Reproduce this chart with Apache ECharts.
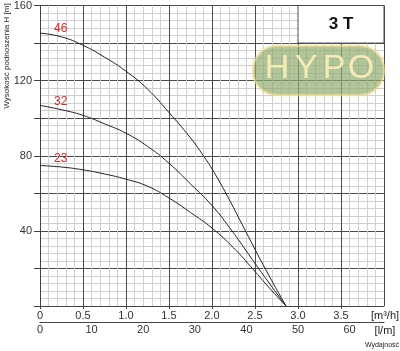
<!DOCTYPE html>
<html>
<head>
<meta charset="utf-8">
<script src="https://cdn.jsdelivr.net/npm/echarts@6/dist/echarts.min.js"></script>
<style>
html,body{margin:0;padding:0;background:#fff;}
#c{width:400px;height:351px;}
</style>
</head>
<body>
<div id="c"></div>
<script>
// Flow Q [m3/h] and head H [m] for each pump variant
const curveNames = ['46', '32', '23'];
const q46 = [0, 0.25, 0.5, 0.75, 1.0, 1.25, 1.5, 1.75, 1.9, 2.0, 2.15, 2.35, 2.6, 2.86];
const h46 = [145.3, 143.3, 138.8, 132.5, 125, 115.5, 103, 89.5, 80, 73, 61, 43.5, 21.5, 0];
const q32 = [0, 0.25, 0.5, 0.75, 1.0, 1.25, 1.5, 1.75, 2.0, 2.2, 2.35, 2.55, 2.7, 2.86];
const h32 = [106.8, 104.5, 101.5, 97, 92, 85, 76, 65, 53.5, 42, 32.5, 19.5, 10, 0];
const q23 = [0, 0.25, 0.5, 0.75, 1.0, 1.25, 1.5, 1.75, 2.0, 2.25, 2.45, 2.65, 2.86];
const h23 = [74.8, 74, 72.5, 70.3, 67.5, 63.8, 57.5, 49.8, 41.5, 31, 21, 10.5, 0];
// label anchor flow for curve labels
const labelQ = 0.24;

const FONT = '"Liberation Sans", Arial, sans-serif';
const chart = echarts.init(document.getElementById('c'), null, {renderer: 'canvas'});

function zip(q, h) { return q.map((v, i) => [v, h[i]]); }
const curves = [zip(q46, h46), zip(q32, h32), zip(q23, h23)];

const option = {
  animation: false,
  backgroundColor: '#fff',
  grid: {left: 40, right: 16, top: 5, bottom: 45, containLabel: false},
  xAxis: [{
    type: 'value', min: 0, max: 4, interval: 0.5, position: 'bottom',
    axisLine: {show: true, onZero: false, lineStyle: {color: '#444', width: 1}},
    axisTick: {show: true, length: 3, lineStyle: {color: '#444'}},
    axisLabel: {margin: 4, fontSize: 11, color: '#333', fontFamily: FONT, showMaxLabel: false,
      formatter: v => v === 0 ? '0' : v.toFixed(1)},
    splitLine: {show: true, lineStyle: {color: '#4a4a4a', width: 1}},
    minorTick: {show: false, splitNumber: 5},
    minorSplitLine: {show: true, lineStyle: {color: '#d0d0d0', width: 1}}
  }, {
    type: 'value', min: 0, max: 200 / 3, interval: 10, position: 'bottom', offset: 16,
    axisLine: {show: true, onZero: false, lineStyle: {color: '#444', width: 1}},
    axisTick: {show: false},
    axisLabel: {margin: 2, fontSize: 11, color: '#333', fontFamily: FONT, showMaxLabel: false},
    splitLine: {show: false}
  }],
  yAxis: {
    type: 'value', min: 0, max: 160, interval: 20,
    axisLine: {show: true, lineStyle: {color: '#444', width: 1}},
    axisTick: {show: true, length: 6, lineStyle: {color: '#444'}},
    axisLabel: {margin: 8, fontSize: 11, color: '#333', fontFamily: FONT,
      formatter: v => (v % 40 === 0 && v > 0) ? String(v) : ''},
    splitLine: {show: true, lineStyle: {color: '#4a4a4a', width: 1}},
    minorTick: {show: false, splitNumber: 5},
    minorSplitLine: {show: true, lineStyle: {color: '#d0d0d0', width: 1}}
  },
  series: curves.map((d, i) => ({
    type: 'line', name: curveNames[i], xAxisIndex: 0, data: d,
    showSymbol: false, symbol: 'none', smooth: 0.5,
    lineStyle: {color: '#222', width: 1}, z: 5
  }))
};
chart.setOption(option);

// decorations positioned through the chart's own coordinate system
const p = (x, y) => chart.convertToPixel({gridIndex: 0}, [x, y]);
const boxTL = p(3.0, 160), boxBR = p(4.0, 140);
const origin = p(0, 0), right = p(4, 0);
const graphics = [];

// "3 T" box
graphics.push({type: 'rect', z: 20,
  shape: {x: boxTL[0], y: boxTL[1], width: boxBR[0] - boxTL[0], height: boxBR[1] - boxTL[1]},
  style: {fill: '#fff', stroke: '#4a4a4a', lineWidth: 1}});
graphics.push({type: 'text', z: 21, x: (boxTL[0] + boxBR[0]) / 2, y: (boxTL[1] + boxBR[1]) / 2,
  style: {text: '3 T', font: 'bold 17px ' + FONT, fill: '#111', align: 'center', verticalAlign: 'middle'}});

// watermark pill
graphics.push({type: 'rect', z: 15,
  shape: {x: 253, y: 46, width: 131, height: 49, r: 24},
  style: {fill: 'rgba(120,160,105,0.55)', stroke: 'rgba(238,222,150,0.6)', lineWidth: 2,
    shadowBlur: 3, shadowColor: 'rgba(230,210,130,0.6)'}});
const wmLetters = ['H', 'Y', 'P', 'O'];
const wmX = [277, 306, 334, 361];
wmLetters.forEach((ch, i) => {
  graphics.push({type: 'text', z: 16, x: wmX[i], y: 69,
    style: {text: ch, font: '34px ' + FONT, fill: 'rgba(252,240,185,0.9)',
      align: 'center', verticalAlign: 'middle'}});
});

// curve labels
const labelH = [h46, h32, h23].map((h, i) => {
  const q = [q46, q32, q23][i];
  for (let k = 1; k < q.length; k++) {
    if (q[k] >= labelQ) { const t = (labelQ - q[k-1]) / (q[k] - q[k-1]); return h[k-1] + t * (h[k] - h[k-1]); }
  }
  return h[0];
});
labelH.forEach((h, i) => {
  const pt = p(labelQ, h);
  graphics.push({type: 'text', z: 22, x: pt[0], y: pt[1] - 2,
    style: {text: curveNames[i], font: '12px ' + FONT, fill: '#c8302c', align: 'center', verticalAlign: 'bottom'}});
});

// axis titles / units
graphics.push({type: 'text', z: 22, x: 7, y: 56, rotation: Math.PI / 2,
  style: {text: 'Wysokość podnoszenia H [m]', font: '8px ' + FONT, fill: '#222', align: 'center', verticalAlign: 'middle'}});
graphics.push({type: 'text', z: 22, x: right[0] + 1, y: origin[1] + 10,
  style: {text: '[m³/h]', font: '11px ' + FONT, fill: '#222', align: 'center', verticalAlign: 'middle'}});
graphics.push({type: 'text', z: 22, x: right[0] + 1, y: origin[1] + 25,
  style: {text: '[l/m]', font: '11px ' + FONT, fill: '#222', align: 'center', verticalAlign: 'middle'}});
graphics.push({type: 'text', z: 22, x: right[0] - 2, y: origin[1] + 39,
  style: {text: 'Wydajność', font: '7px ' + FONT, fill: '#222', align: 'center', verticalAlign: 'middle'}});

chart.setOption({graphic: graphics});
</script>
</body>
</html>
